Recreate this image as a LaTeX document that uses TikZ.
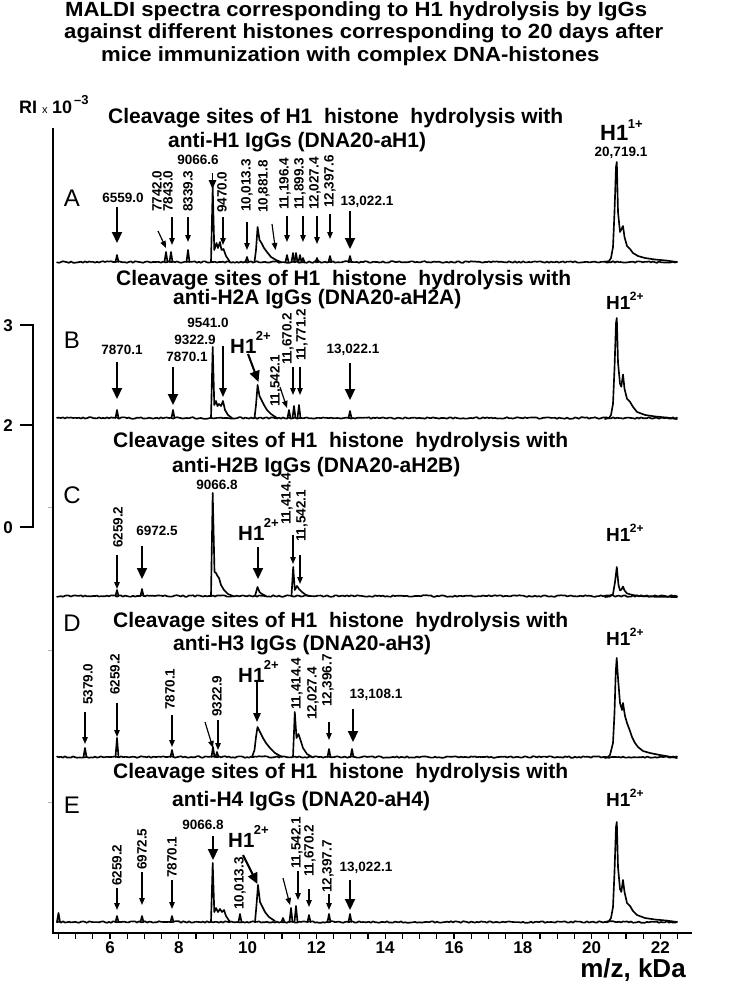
\documentclass[tikz,border=0pt]{standalone}
\usepackage{fontspec}
\setmainfont{Liberation Sans}
\newfontfamily\ttlfont[FakeStretch=1.08]{Liberation Sans}
\usetikzlibrary{arrows.meta}
\tikzset{
 spec/.style={line width=1.65pt,line join=round,line cap=round},
 axisln/.style={line width=1.7pt},
 thinarr/.style={line width=1.15pt,-{Triangle[length=7pt,width=5.5pt]}},
 midarr/.style={line width=1.35pt,-{Triangle[length=9pt,width=7.5pt]}},
 boldarr/.style={line width=2.1pt,-{Triangle[length=11pt,width=10pt]}},
 num/.style={font=\fontsize{13.5}{13.5}\selectfont\bfseries,inner sep=0pt},
 vnum/.style={num,rotate=90,anchor=west},
 ttl/.style={font=\ttlfont\fontsize{20.5}{20.5}\selectfont\bfseries,inner sep=0pt,anchor=base west},
 ptitle/.style={font=\fontsize{21}{21}\selectfont\bfseries,inner sep=0pt,anchor=west},
 plet/.style={font=\fontsize{24}{24}\selectfont,inner sep=0pt},
 hmid/.style={inner sep=0pt,anchor=base west},
 axnum/.style={font=\fontsize{17}{17}\selectfont\bfseries,inner sep=0pt,text height=12pt,text depth=0pt},
}
\newcommand\Hmid[1]{{\fontsize{20.5}{20.5}\selectfont\bfseries H1}\kern-0.5pt\raisebox{13pt}{\fontsize{13}{13}\selectfont\bfseries #1}}
\newcommand\Hright[1]{{\fontsize{19}{19}\selectfont\bfseries H1}\kern-0.5pt\raisebox{9pt}{\fontsize{12}{12}\selectfont\bfseries #1}}
\newcommand\vlab[4]{\node[vnum] (#1) at (#2,#3) {#4};}
\newcommand\hlab[4]{\node[num] (#1) at (#2,#3) {#4};}
\newcommand\myarr[6]{\coordinate (#2s) at (#3,#4); \coordinate (#2e) at (#5,#6); \draw[#1] (#2s) -- (#2e);}
\newcommand\pk[3]{\draw[spec] ({#1-1.5},#2) -- (#1,{#2-#3}) -- ({#1+1.5},#2);}
\newcommand\noisebase[1]{\draw[spec] plot[domain=57:677,samples=311] (\x,{#1+0.8*rand});}
\newcommand\hpeak[3]{\draw[spec] (605,#1) \foreach \xx/\ff in #3 { -- (\xx,{#1-\ff*#2}) };}
\def\shA{609/0.01,611/0.04,613/0.15,614.5/0.5,616/0.95,616.8/1,618/0.5,620/0.3,621.5/0.33,623/0.36,624.5/0.25,627/0.16,630/0.13,633/0.09,638/0.06,645/0.04,655/0.025,666/0.015,677/0}
\def\shB{609/0.01,611/0.04,613/0.15,614.5/0.5,616/0.95,616.8/1,618/0.56,620/0.35,621.3/0.32,623/0.44,624.5/0.3,627/0.2,630/0.17,633/0.12,637/0.07,645/0.04,655/0.025,666/0.015,677/0}
\def\shC{610/0.02,613/0.1,615/0.5,616.8/1,618.5/0.4,620/0.22,621.5/0.25,623/0.35,624.5/0.22,627/0.12,632/0.07,640/0.03,655/0.01,677/0}
\def\shD{608/0.01,610/0.03,613/0.15,614.5/0.45,615.7/0.85,616.7/1,618/0.8,620/0.55,622/0.48,623/0.55,625/0.42,627/0.35,630/0.27,632/0.21,635/0.15,638/0.11,643/0.07,650/0.05,660/0.03,677/0}
\def\shE{609/0.01,611/0.04,613/0.15,614.5/0.5,616/0.95,616.8/1,618/0.55,620/0.33,621.3/0.3,623/0.42,624.5/0.3,627/0.19,630/0.16,633/0.11,637/0.07,645/0.04,655/0.025,666/0.015,677/0}
\begin{document}
\begin{tikzpicture}[x=1pt,y=-1pt]
\pgfmathsetseed{12}
\useasboundingbox (0,0) rectangle (743,986);
% title
\node[ttl] (t1) at (65,16) {MALDI spectra corresponding to H1 hydrolysis by IgGs};
\node[ttl] (t2) at (64,38.5) {against different histones corresponding to 20 days after};
\node[ttl] (t3) at (101,61) {mice immunization with complex DNA-histones};
% RI label
\node[anchor=base west,inner sep=0pt] (ri) at (19,113) {{\fontsize{18}{18}\selectfont\bfseries RI}\hspace{5pt}{\fontsize{11}{11}\selectfont x}\hspace{4.5pt}{\fontsize{18}{18}\selectfont\bfseries 10}\hspace{2pt}\raisebox{9pt}{\fontsize{13}{13}\selectfont\bfseries --3}};
% scale bar
\node[axnum] (s3) at (8,325) {3};
\node[axnum] (s2) at (8,425) {2};
\node[axnum] (s0) at (8,527) {0};
\coordinate (sb1) at (20,325); \coordinate (sb2) at (33,325);
\coordinate (sb3) at (33,527); \coordinate (sb4) at (20,527);
\coordinate (sb5) at (20,425); \coordinate (sb6) at (33,425);
\draw[axisln] (sb1) -- (sb2) -- (sb3) -- (sb4);
\draw[axisln] (sb5) -- (sb6);
% axes
\coordinate (ax0) at (53,128); \coordinate (ax1) at (53,933); \coordinate (ax2) at (692,933);
\draw[axisln] (ax0) -- (ax1) -- (ax2);
\foreach \k in {4.5,5.0,...,22.5} \draw[line width=1.3pt] ({110+34.4*(\k-6)},933) -- ({110+34.4*(\k-6)},939);
\foreach \k in {6,8,...,22} \node[axnum] (tk\k) at ({110+34.4*(\k-6)},947) {\k};
\node[font=\fontsize{26}{26}\selectfont\bfseries,inner sep=0pt,text height=19pt,text depth=5pt] (xl) at (633,970) {m/z, kDa};
\foreach \yy in {507,650,802} \draw[gray!60,line width=0.8pt] (48,\yy) -- (52,\yy);
% panel letters
\node[plet] (lA) at (72,198) {A};
\node[plet] (lB) at (72,340) {B};
\node[plet] (lC) at (72,495) {C};
\node[plet] (lD) at (72,623) {D};
\node[plet] (lE) at (72,805) {E};
% panel titles
\node[ptitle] (tA1) at (108,118) {Cleavage sites of H1\ \ histone\ \ hydrolysis with};
\node[ptitle] (tA2) at (168,142) {anti-H1 IgGs (DNA20-aH1)};
\node[ptitle] (tB1) at (116,280) {Cleavage sites of H1\ \ histone\ \ hydrolysis with};
\node[ptitle] (tB2) at (173,299) {anti-H2A IgGs (DNA20-aH2A)};
\node[ptitle] (tC1) at (113,442) {Cleavage sites of H1\ \ histone\ \ hydrolysis with};
\node[ptitle] (tC2) at (172,467) {anti-H2B IgGs (DNA20-aH2B)};
\node[ptitle] (tD1) at (113,622) {Cleavage sites of H1\ \ histone\ \ hydrolysis with};
\node[ptitle] (tD2) at (173,645) {anti-H3 IgGs (DNA20-aH3)};
\node[ptitle] (tE1) at (113,773) {Cleavage sites of H1\ \ histone\ \ hydrolysis with};
\node[ptitle] (tE2) at (172,801) {anti-H4 IgGs (DNA20-aH4)};
% ===== spectrum A =====
\noisebase{262}
\pk{117}{262}{7} \pk{166}{262}{10} \pk{171}{262}{10} \pk{188}{262}{12}
\draw[spec] (211,262) -- (212.7,187) -- (214.3,250) -- (216.5,243) -- (218,248) -- (220,242) -- (221.5,250) -- (223.5,249) -- (226,256) -- (230,262);
\pk{247}{262}{5}
\draw[spec] (254.5,262) -- (256,250) -- (257.6,227) -- (259.5,240) -- (261.5,243) -- (264,248) -- (267,252) -- (271,257) -- (276,260) -- (281,262);
\pk{287}{262}{7} \pk{293}{262}{9} \pk{296}{262}{9} \pk{300}{262}{7} \pk{303}{262}{4}
\pk{317}{262}{4} \pk{330}{262}{6} \pk{350}{262}{6}
\hpeak{262}{100}{\shA}
\hlab{a1}{123}{198}{6559.0}
\vlab{a2}{157}{212}{7742.0}
\vlab{a3}{168}{212}{7843.0}
\vlab{a4}{188}{212}{8339.3}
\hlab{a5}{198}{160}{9066.6}
\vlab{a6}{222}{213}{9470.0}
\vlab{a7}{247}{212}{10,013.3}
\vlab{a8}{264}{213}{10,881.8}
\vlab{a9}{285}{210}{11,196.4}
\vlab{a10}{300}{210}{11,899.3}
\vlab{a11}{315}{210}{12,027.4}
\vlab{a12}{330}{208}{12,397.6}
\hlab{a13}{367}{202}{13,022.1}
\myarr{boldarr}{aa1}{117}{207}{117}{243}
\myarr{thinarr}{aa2}{158}{231}{166}{248}
\myarr{thinarr}{aa3}{172}{217}{172}{245}
\myarr{thinarr}{aa4}{188}{217}{188}{242}
\myarr{midarr}{aa5}{212.5}{173}{212.5}{189}
\myarr{thinarr}{aa6}{223}{217}{223}{245}
\myarr{thinarr}{aa7}{247}{222}{247}{250}
\myarr{thinarr}{aa8}{272}{224}{275.5}{250}
\myarr{thinarr}{aa9}{287}{216}{287}{242}
\myarr{thinarr}{aa10}{303}{216}{303}{242}
\myarr{thinarr}{aa11}{317}{216}{317}{244}
\myarr{thinarr}{aa12}{330}{214}{330}{239}
\myarr{boldarr}{aa13}{350}{211}{350}{249}
\node[hmid] (hA) at (600,140) {{\fontsize{22}{22}\selectfont\bfseries H1}\kern-0.5pt\raisebox{12pt}{\fontsize{13}{13}\selectfont\bfseries 1+}};
\hlab{hAn}{621}{153}{20,719.1}
% ===== spectrum B =====
\noisebase{418}
\pk{117}{418}{8} \pk{173}{418}{8}
\draw[spec] (211,418) -- (212.7,347) -- (214.3,405) -- (216,401) -- (217.5,406) -- (219,404) -- (221,406) -- (223,401) -- (225,410) -- (228,415) -- (232,418);
\draw[spec] (254.5,418) -- (256,405) -- (257.6,385) -- (259.5,396) -- (261.5,400) -- (264,405) -- (267,410) -- (271,414) -- (277,418);
\pk{289}{418}{8} \pk{294}{418}{12} \pk{299}{418}{13} \pk{350}{418}{7}
\hpeak{419}{101}{\shB}
\hlab{b1}{122}{350}{7870.1}
\hlab{b2}{187}{357}{7870.1}
\hlab{b3}{208}{323}{9541.0}
\hlab{b4}{195}{340}{9322.9}
\node[hmid] (b5) at (230,353) {\Hmid{2+}};
\vlab{b6}{276}{407}{11,542.1}
\vlab{b7}{288}{365}{11,670.2}
\vlab{b8}{302}{361}{11,771.2}
\hlab{b9}{353}{350}{13,022.1}
\myarr{boldarr}{ba1}{117}{362}{117}{399}
\myarr{boldarr}{ba2}{173}{367}{173}{405}
\myarr{midarr}{ba3}{223}{346}{223}{397}
\myarr{boldarr}{ba4}{248}{354}{258.5}{382}
\myarr{thinarr}{ba5}{280}{387}{287}{408}
\myarr{thinarr}{ba6}{293}{367}{293}{395}
\myarr{thinarr}{ba7}{300}{367}{300}{395}
\myarr{boldarr}{ba8}{350}{363}{350}{400}
\node[hmid] (hB) at (606,309) {\Hright{2+}};
% ===== spectrum C =====
\noisebase{596}
\pk{117}{596}{6} \pk{142}{596}{7}
\draw[spec] (211,596) -- (212.7,493) -- (214.5,572) -- (216,573) -- (217.5,576) -- (219,578) -- (221,585) -- (224,590) -- (228,594) -- (233,596);
\draw[spec] (255,596) -- (257.5,587) -- (259.5,592) -- (262,594) -- (266,596);
\draw[spec] (291.5,596) -- (293.2,567) -- (294.8,590) -- (297,586) -- (299,589) -- (302,592) -- (306,595) -- (310,596);
\hpeak{597}{30}{\shC}
\vlab{c1}{118}{548}{6259.2}
\hlab{c2}{157}{531}{6972.5}
\hlab{c3}{217}{485}{9066.8}
\node[hmid] (c4) at (238,540) {\Hmid{2+}};
\vlab{c5}{287}{525}{11,414.4}
\vlab{c6}{302}{542}{11,542.1}
\myarr{thinarr}{ca1}{117}{555}{117}{589}
\myarr{boldarr}{ca2}{142}{546}{142}{579}
\myarr{boldarr}{ca3}{258}{547}{258}{579}
\myarr{thinarr}{ca4}{293}{535}{293}{564}
\myarr{thinarr}{ca5}{300}{555}{300}{584}
\node[hmid] (hC) at (606,541) {\Hright{2+}};
% ===== spectrum D =====
\noisebase{757}
\pk{85}{757}{9} \pk{117}{757}{19} \pk{172}{757}{7} \pk{213}{757}{10} \pk{217}{757}{5}
\draw[spec] (252,757) -- (254.5,750) -- (256,737) -- (257.5,727) -- (259.5,731) -- (263,738) -- (266,743) -- (270,748) -- (275,753) -- (282,757);
\draw[spec] (293,757) -- (294.8,712) -- (296.5,738) -- (298.5,734) -- (300.5,740) -- (303,748) -- (307,754) -- (312,757);
\pk{329}{757}{8} \pk{352}{757}{8}
\hpeak{758}{100}{\shD}
\vlab{d1}{88}{705}{5379.0}
\vlab{d2}{115}{695}{6259.2}
\vlab{d3}{170}{710}{7870.1}
\vlab{d4}{217}{717}{9322.9}
\node[hmid] (d5) at (238,682) {\Hmid{2+}};
\vlab{d6}{297}{710}{11,414.4}
\vlab{d7}{313}{720}{12,027.4}
\vlab{d8}{328}{707}{12,396.7}
\hlab{d9}{376}{695}{13,108.1}
\myarr{thinarr}{da1}{85}{712}{85}{744}
\myarr{thinarr}{da2}{117}{703}{117}{737}
\myarr{thinarr}{da3}{172}{715}{172}{747}
\myarr{thinarr}{da4}{205}{722}{213}{748}
\myarr{thinarr}{da5}{218}{720}{218}{750}
\myarr{midarr}{da6}{257}{682}{257}{722}
\myarr{thinarr}{da7}{329}{722}{329}{740}
\myarr{boldarr}{da8}{353}{709}{353}{742}
\node[hmid] (hD) at (606,645) {\Hright{2+}};
% ===== spectrum E =====
\noisebase{922}
\pk{58.5}{922}{9} \pk{117}{922}{6} \pk{142}{922}{6} \pk{172}{922}{6}
\draw[spec] (211,922) -- (212.7,863) -- (214.3,912) -- (216,908) -- (218,912) -- (220,909) -- (222,912) -- (224,910) -- (226,916) -- (230,922);
\pk{240}{922}{8}
\draw[spec] (255,922) -- (256.5,905) -- (258,885) -- (260,902) -- (262,906) -- (265,912) -- (269,917) -- (275,921);
\pk{283}{922}{4} \pk{291}{922}{14} \pk{296}{922}{16} \pk{309}{922}{7} \pk{329}{922}{8} \pk{350}{922}{8}
\hpeak{922}{100}{\shE}
\vlab{e1}{117}{886}{6259.2}
\vlab{e2}{142}{870}{6972.5}
\vlab{e3}{172}{878}{7870.1}
\hlab{e4}{203}{825}{9066.8}
\node[hmid] (e5) at (228,847) {\Hmid{2+}};
\vlab{e6}{240}{910}{10,013.3}
\vlab{e7}{297}{869}{11,542.1}
\vlab{e8}{310}{877}{11,670.2}
\vlab{e9}{328}{893}{12,397.7}
\hlab{e10}{366}{868}{13,022.1}
\myarr{thinarr}{ea1}{117}{888}{117}{910}
\myarr{thinarr}{ea2}{142}{872}{142}{905}
\myarr{thinarr}{ea3}{172}{880}{172}{909}
\myarr{boldarr}{ea4}{213}{836}{213}{860}
\myarr{boldarr}{ea5}{243}{855}{257.5}{884}
\myarr{thinarr}{ea6}{283}{878}{290}{905}
\myarr{thinarr}{ea7}{298}{871}{298}{900}
\myarr{thinarr}{ea8}{309}{889}{309}{907}
\myarr{thinarr}{ea9}{329}{894}{329}{910}
\myarr{boldarr}{ea10}{350}{880}{350}{910}
\node[hmid] (hE) at (606,806) {\Hright{2+}};
\end{tikzpicture}
\end{document}
